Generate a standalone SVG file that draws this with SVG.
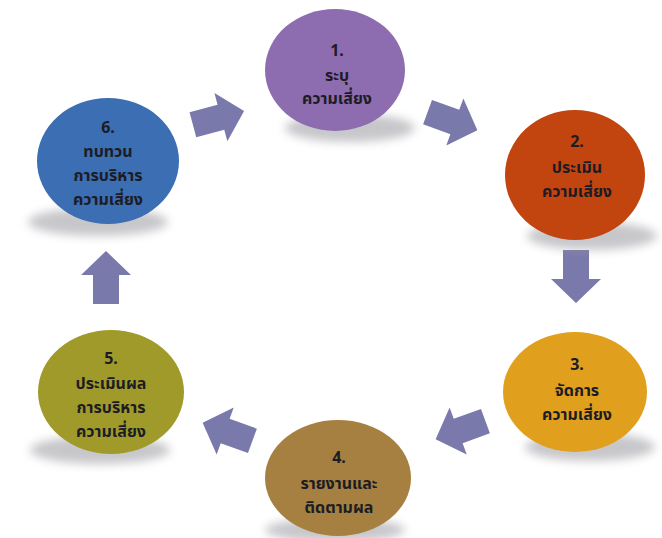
<svg xmlns="http://www.w3.org/2000/svg" width="662" height="538" viewBox="0 0 662 538">
<style>
.lbl{font-family:"Noto Sans","Noto Sans Thai","DejaVu Sans",sans-serif;font-weight:bold;font-size:16px;fill:#1c1c24;text-anchor:middle}
.arr{fill:#7a79ab}
.sh{fill:#9a9aa0;opacity:0.55;filter:url(#blur)}
</style>
<defs>
<filter id="blur" x="-30%" y="-30%" width="160%" height="160%"><feGaussianBlur stdDeviation="5"/></filter>
<path id="arrow" d="M-26,-13 L3,-13 L3,-25 L27,0 L3,25 L3,13 L-26,13 Z"/>
</defs>
<rect width="662" height="538" fill="#ffffff"/>
<g id="connectors">
<use href="#arrow" class="arr" transform="translate(218,118) rotate(-15)"/>
<use href="#arrow" class="arr" transform="translate(452,121) rotate(20)"/>
<use href="#arrow" class="arr" transform="translate(576,276) rotate(90)"/>
<use href="#arrow" class="arr" transform="translate(461,430) rotate(160)"/>
<use href="#arrow" class="arr" transform="translate(228,432) rotate(200)"/>
<use href="#arrow" class="arr" transform="translate(106,278) rotate(-90)"/>
</g>
<g id="node1">
<ellipse class="sh" cx="350" cy="128" rx="65" ry="14"/>
<ellipse cx="335" cy="70" rx="70" ry="61" fill="#8d6cb0"/>
<text class="lbl" x="337" y="56">1.</text>
<text class="lbl" x="337" y="81">ระบุ</text>
<text class="lbl" x="337" y="104">ความเสี่ยง</text>
</g>
<g id="node2">
<ellipse class="sh" cx="592" cy="236" rx="65" ry="14"/>
<ellipse cx="575" cy="175" rx="70" ry="65" fill="#c2450f"/>
<text class="lbl" x="577" y="147">2.</text>
<text class="lbl" x="577" y="173">ประเมิน</text>
<text class="lbl" x="577" y="197">ความเสี่ยง</text>
</g>
<g id="node3">
<ellipse class="sh" cx="590" cy="447" rx="65" ry="14"/>
<ellipse cx="575" cy="392" rx="72" ry="60" fill="#e0a01e"/>
<text class="lbl" x="577" y="370">3.</text>
<text class="lbl" x="577" y="396">จัดการ</text>
<text class="lbl" x="577" y="420">ความเสี่ยง</text>
</g>
<g id="node4">
<ellipse class="sh" cx="335" cy="530" rx="70" ry="12"/>
<ellipse cx="338" cy="478" rx="73" ry="58" fill="#a58040"/>
<text class="lbl" x="339" y="463">4.</text>
<text class="lbl" x="339" y="489">รายงานและ</text>
<text class="lbl" x="339" y="513">ติดตามผล</text>
</g>
<g id="node5">
<ellipse class="sh" cx="100" cy="450" rx="70" ry="14"/>
<ellipse cx="111" cy="392" rx="73" ry="62" fill="#a09a2a"/>
<text class="lbl" x="111" y="364">5.</text>
<text class="lbl" x="111" y="389">ประเมินผล</text>
<text class="lbl" x="111" y="413">การบริหาร</text>
<text class="lbl" x="111" y="437">ความเสี่ยง</text>
</g>
<g id="node6">
<ellipse class="sh" cx="98" cy="222" rx="70" ry="14"/>
<ellipse cx="108" cy="161" rx="71" ry="63" fill="#3b6eb2"/>
<text class="lbl" x="108" y="133">6.</text>
<text class="lbl" x="108" y="157">ทบทวน</text>
<text class="lbl" x="108" y="181">การบริหาร</text>
<text class="lbl" x="108" y="205">ความเสี่ยง</text>
</g>
</svg>
